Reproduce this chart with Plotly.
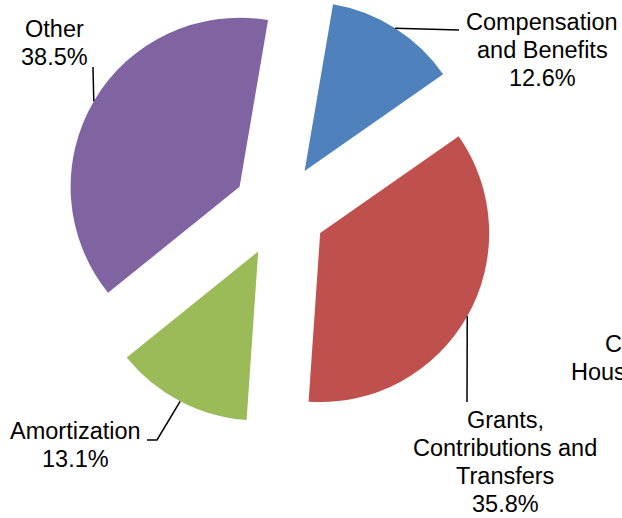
import math
import plotly.graph_objects as go

# Expense breakdown (share of total, %)
categories = [
    "Compensation and Benefits",
    "Grants, Contributions and Transfers",
    "Amortization",
    "Other",
    "Contracted Housing Services",
]
shares = [12.6, 35.8, 13.1, 38.5, 0.0]
label_lines = [
    ["Compensation", "and Benefits"],
    ["Grants,", "Contributions and", "Transfers"],
    ["Amortization"],
    ["Other"],
    ["Contracted", "Housing Services"],
]
colors = ["#4F81BD", "#C0504D", "#9BBB59", "#8064A2", "#F79646"]

# Figure geometry (pixels)
W, H = 622, 518
CX, CY = 279.7, 210.2      # pie centre before slices are pulled out
R = 169                    # slice radius
EXPLODE = 46.5             # distance each slice is pulled out from the centre
FIRST_ANGLE = 9.7          # first slice starts here, degrees clockwise from 12 o'clock

# Data-label placement: (centre x, first line y) and leader-line elbows
label_anchor = [(542, 22.5), (505, 420), (75.5, 431), (54.5, 29), (663, 344)]
leader_elbows = [[(459, 30)], [(467, 402)], [(157, 440), (147, 440)], [(93, 67)], []]
LINE_GAP = 28
FONT = dict(family="Arial, Liberation Sans, sans-serif", size=23.5, color="#000000")


def px(x, y):
    return x / W, 1 - y / H


fig = go.Figure()
total = sum(shares)
angle = FIRST_ANGLE
annotations, shapes = [], []

for i, (name, v, col) in enumerate(zip(categories, shares, colors)):
    span = 360.0 * v / total
    mid = math.radians(angle + span / 2)
    # apex of the exploded slice
    ax = CX + EXPLODE * math.sin(mid)
    ay = CY - EXPLODE * math.cos(mid)
    if v > 0:
        fig.add_trace(go.Pie(
            values=[v, total - v],
            labels=[name, name + " (rest)"],
            marker=dict(colors=[col, "rgba(0,0,0,0)"], line=dict(width=0)),
            sort=False,
            direction="clockwise",
            rotation=angle,
            textinfo="none",
            hoverinfo="skip",
            showlegend=False,
            domain=dict(x=[(ax - R) / W, (ax + R) / W],
                        y=[1 - (ay + R) / H, 1 - (ay - R) / H]),
        ))
        # leader line from the middle of the slice's arc to the label
        pts = [(ax + R * math.sin(mid), ay - R * math.cos(mid))] + leader_elbows[i]
        if leader_elbows[i]:
            path = "M " + " L ".join(
                "{:.4f},{:.4f}".format(*px(x, y)) for x, y in pts)
            shapes.append(dict(type="path", xref="paper", yref="paper", path=path,
                               line=dict(color="#000000", width=1.5)))
    # data label text, one annotation per line
    lines = label_lines[i] + ["{:.1f}%".format(v)]
    lx, ly = label_anchor[i]
    for k, txt in enumerate(lines):
        x_p, y_p = px(lx, ly + k * LINE_GAP)
        annotations.append(dict(text=txt, x=x_p, y=y_p, xref="paper", yref="paper",
                                xanchor="center", yanchor="middle", showarrow=False,
                                font=FONT))
    angle += span

fig.update_layout(
    width=W, height=H,
    margin=dict(l=0, r=0, t=0, b=0),
    paper_bgcolor="#FFFFFF", plot_bgcolor="#FFFFFF",
    showlegend=False,
    annotations=annotations,
    shapes=shapes,
)

fig.write_html("out.html")
